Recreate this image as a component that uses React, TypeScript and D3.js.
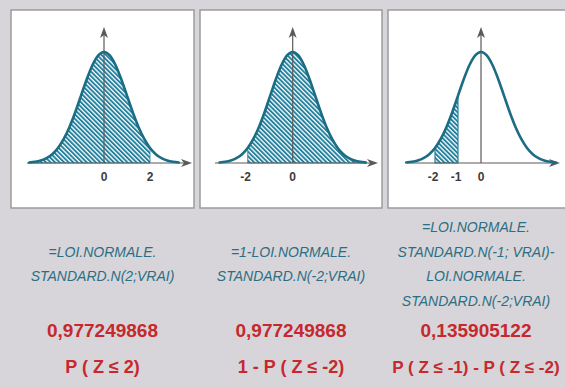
import * as React from 'react';
import * as d3 from 'd3';

// standard normal density, read at each quarter step
const Z = [-3.25, -3, -2.75, -2.5, -2.25, -2, -1.75, -1.5, -1.25, -1, -0.75, -0.5, -0.25, 0,
    0.25, 0.5, 0.75, 1, 1.25, 1.5, 1.75, 2, 2.25, 2.5, 2.75, 3, 3.25];
const DENSITY = [0.002, 0.0044, 0.0091, 0.0175, 0.0317, 0.054, 0.0863, 0.1295, 0.1826, 0.242, 0.3011, 0.3521, 0.3867, 0.3989,
    0.3867, 0.3521, 0.3011, 0.242, 0.1826, 0.1295, 0.0863, 0.054, 0.0317, 0.0175, 0.0091, 0.0044, 0.002];

const SHADE_FROM = [-3.25, -2, -2];
const SHADE_TO = [2, 3.25, -1];
const TICKS = [[0, 2], [-2, 0], [-2, -1, 0]];
const FORMULAS = [
    ['=LOI.NORMALE.', 'STANDARD.N(2;VRAI)'],
    ['=1-LOI.NORMALE.', 'STANDARD.N(-2;VRAI)'],
    ['=LOI.NORMALE.', 'STANDARD.N(-1; VRAI)-', 'LOI.NORMALE.', 'STANDARD.N(-2;VRAI)']
];
const VALUES = ['0,977249868', '0,977249868', '0,135905122'];
const PROBS = ['P ( Z ≤ 2)', '1 - P ( Z ≤ -2)', 'P ( Z ≤ -1) - P ( Z ≤ -2)'];

interface Pt {
    z: number;
    d: number;
}

const W = 565;
const H = 387;

export default function App() {
    const svgRef = React.useRef<SVGSVGElement>(null);

    React.useEffect(() => {
        const svg = d3.select(svgRef.current);
        svg.selectAll('*').remove();

        const BG = '#d7d5d9';
        const CURVE = '#1b6c85';
        const TEAL_TEXT = '#2b6e83';
        const RED = '#c6282d';
        const AXIS = '#5a5a5a';

        svg.append('rect').attr('width', W).attr('height', H).attr('fill', BG);

        /** ******** Hatch ********* */
        const defs = svg.append('defs');
        const pat = defs
            .append('pattern')
            .attr('id', 'hatch')
            .attr('patternUnits', 'userSpaceOnUse')
            .attr('width', 3.2)
            .attr('height', 3.2)
            .attr('patternTransform', 'rotate(-45)');
        pat.append('rect').attr('width', 3.2).attr('height', 3.2).attr('fill', '#ffffff');
        pat.append('rect').attr('width', 1.9).attr('height', 3.2).attr('fill', '#21809d');

        const data: Pt[] = Z.map((z, i) => ({ z, d: DENSITY[i] }));

        // panel boxes and where the curve sits in each
        const BOX = [
            { x: 11, w: 183 },
            { x: 200, w: 182 },
            { x: 388, w: 195 }
        ];
        const CENTER = [104, 292.7, 481];
        const UNIT = [23, 22.5, 23];
        const AXIS_X = [
            [27, 192],
            [215, 378],
            [407, 560]
        ];
        const TEXT_X = [102.5, 291, 476];
        const BASE_Y = 163;
        const PEAK_Y = 52;

        BOX.forEach((b, i) => {
            const g = svg.append('g');
            g.append('rect')
                .attr('x', b.x)
                .attr('y', 10)
                .attr('width', b.w)
                .attr('height', 198)
                .attr('fill', '#ffffff')
                .attr('stroke', '#9c9c9c')
                .attr('stroke-width', 1.5);

            const x = d3
                .scaleLinear()
                .domain([-1, 1])
                .range([CENTER[i] - UNIT[i], CENTER[i] + UNIT[i]]);
            const y = d3.scaleLinear().domain([0, 0.3989]).range([BASE_Y, PEAK_Y]);

            // shaded area
            const part = data.filter(p => p.z >= SHADE_FROM[i] && p.z <= SHADE_TO[i]);
            const area = d3
                .area<Pt>()
                .x(p => x(p.z))
                .y0(y(0))
                .y1(p => y(p.d))
                .curve(d3.curveMonotoneX);
            g.append('path')
                .datum(part)
                .attr('d', area)
                .attr('fill', 'url(#hatch)')
                .attr('stroke', '#2a7f9a')
                .attr('stroke-width', i === 2 ? 1.2 : 0.8);

            // axes
            g.append('line')
                .attr('x1', AXIS_X[i][0])
                .attr('x2', AXIS_X[i][1] - 6)
                .attr('y1', BASE_Y)
                .attr('y2', BASE_Y)
                .attr('stroke', AXIS)
                .attr('stroke-width', 1.2);
            g.append('path')
                .attr('d', `M${AXIS_X[i][1]},${BASE_Y} l-11,-4 l3,4 l-3,4 z`)
                .attr('fill', AXIS);
            g.append('line')
                .attr('x1', CENTER[i])
                .attr('x2', CENTER[i])
                .attr('y1', BASE_Y)
                .attr('y2', 34)
                .attr('stroke', AXIS)
                .attr('stroke-width', 1.2);
            g.append('path')
                .attr('d', `M${CENTER[i]},27 l-4,11 l4,-3 l4,3 z`)
                .attr('fill', AXIS);

            // curve
            const line = d3
                .line<Pt>()
                .x(p => x(p.z))
                .y(p => y(p.d))
                .curve(d3.curveMonotoneX);
            g.append('path')
                .datum(data)
                .attr('d', line)
                .attr('fill', 'none')
                .attr('stroke', CURVE)
                .attr('stroke-width', 2.6)
                .attr('stroke-linecap', 'round');

            // tick labels
            g.selectAll('text.tick')
                .data(TICKS[i])
                .enter()
                .append('text')
                .attr('class', 'tick')
                .attr('x', t => x(t) - (t < 0 ? 2 : 0))
                .attr('y', 181)
                .attr('text-anchor', 'middle')
                .attr('font-family', 'Liberation Sans, Arial, sans-serif')
                .attr('font-weight', 'bold')
                .attr('font-size', 12)
                .attr('fill', '#3c3c3c')
                .text(t => String(t));

            /** ******** Formula text ********* */
            const lines = FORMULAS[i];
            const firstY = 281 - (lines.length === 4 ? 2 : 1) * 24.5;
            g.selectAll('text.formula')
                .data(lines)
                .enter()
                .append('text')
                .attr('class', 'formula')
                .attr('x', TEXT_X[i])
                .attr('y', (_, k) => firstY + k * 24.5)
                .attr('text-anchor', 'middle')
                .attr('font-family', 'Liberation Sans, Arial, sans-serif')
                .attr('font-style', 'italic')
                .attr('font-size', 14)
                .attr('fill', TEAL_TEXT)
                .text(s => s);

            g.append('text')
                .attr('x', TEXT_X[i])
                .attr('y', 337)
                .attr('text-anchor', 'middle')
                .attr('font-family', 'Liberation Sans, Arial, sans-serif')
                .attr('font-weight', 'bold')
                .attr('font-size', 19)
                .attr('fill', RED)
                .text(VALUES[i]);

            g.append('text')
                .attr('x', TEXT_X[i])
                .attr('y', 373)
                .attr('text-anchor', 'middle')
                .attr('font-family', 'Liberation Sans, Arial, sans-serif')
                .attr('font-weight', 'bold')
                .attr('font-size', i === 2 ? 17 : 18)
                .attr('fill', RED)
                .text(PROBS[i]);
        });
    });

    return (
        <svg
            ref={svgRef}
            width={W}
            height={H}
            style={{ position: 'absolute', left: 0, top: 0, display: 'block' }}
        />
    );
}
